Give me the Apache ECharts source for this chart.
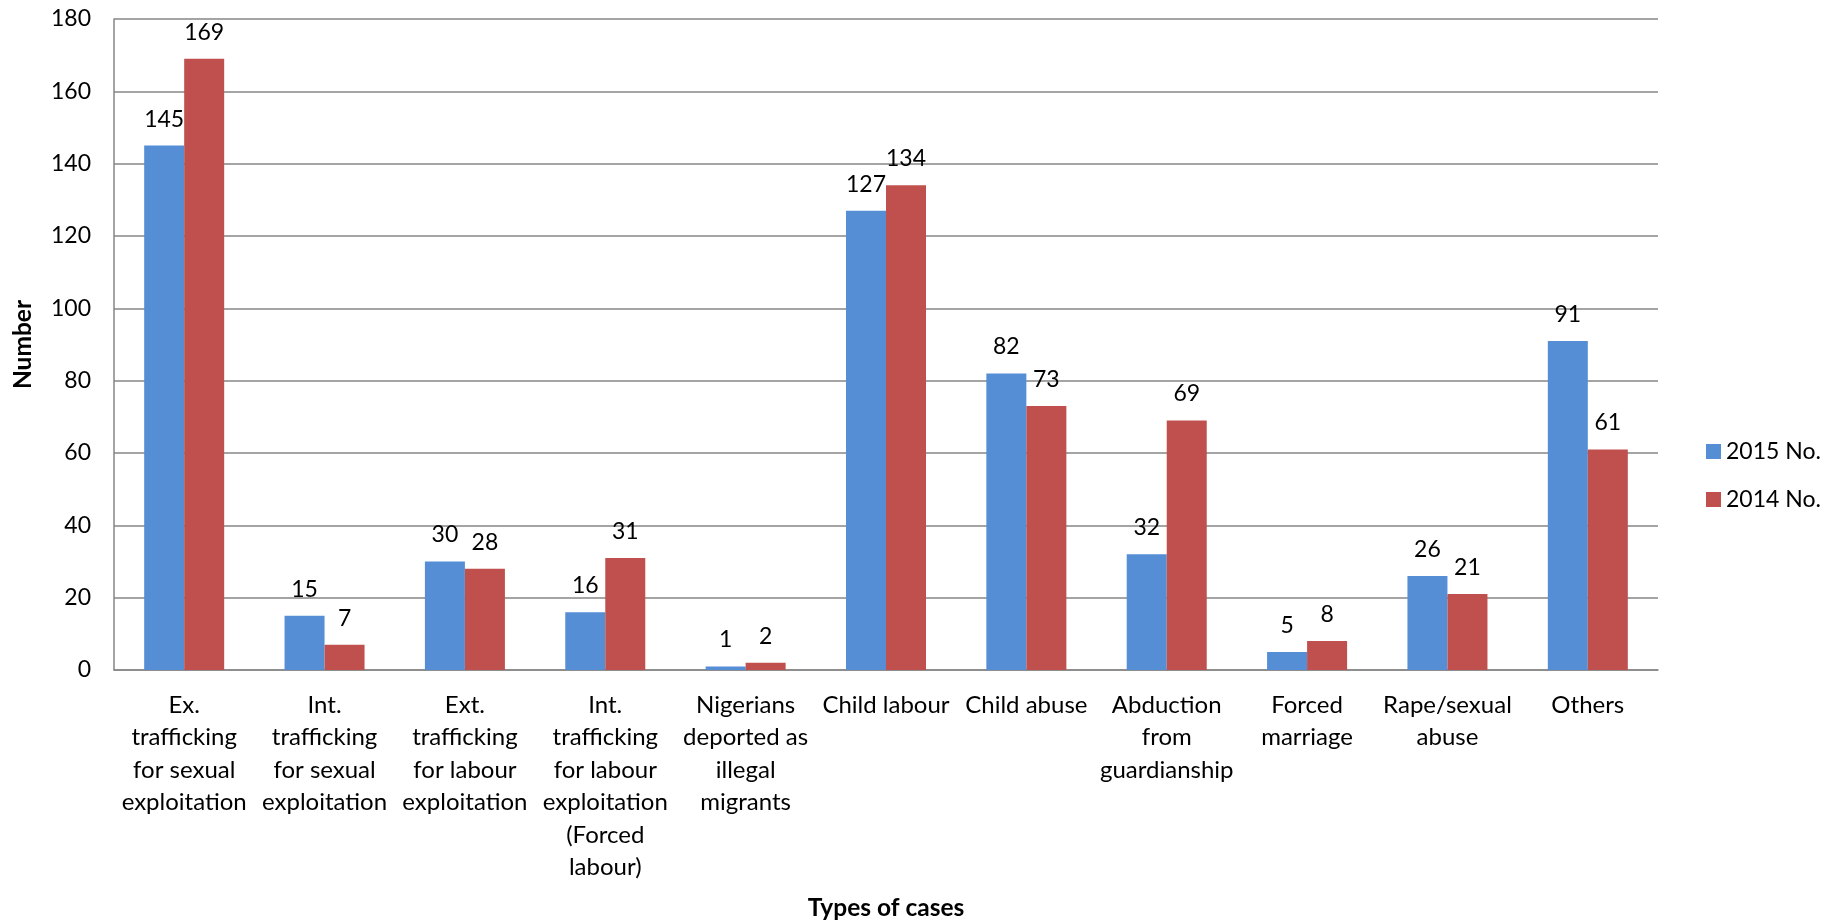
<!DOCTYPE html>
<html>
<head>
<meta charset="utf-8">
<script src="https://cdn.jsdelivr.net/npm/echarts@6/dist/echarts.min.js"></script>
<style>html,body{margin:0;padding:0;background:#fff;}#c{width:1839px;height:923px;}</style>
</head>
<body>
<div id="c"></div>
<script>
var categories = [
  "Ex.\ntrafficking\nfor sexual\nexploitation",
  "Int.\ntrafficking\nfor sexual\nexploitation",
  "Ext.\ntrafficking\nfor labour\nexploitation",
  "Int.\ntrafficking\nfor labour\nexploitation\n(Forced\nlabour)",
  "Nigerians\ndeported as\nillegal\nmigrants",
  "Child labour",
  "Child abuse",
  "Abduction\nfrom\nguardianship",
  "Forced\nmarriage",
  "Rape/sexual\nabuse",
  "Others"
];
var values2015 = [145, 15, 30, 16, 1, 127, 82, 32, 5, 26, 91];
var values2014 = [169, 7, 28, 31, 2, 134, 73, 69, 8, 21, 61];
var seriesNames = ["2015 No.", "2014 No."];

var FONT = "Lato";
var chart = echarts.init(document.getElementById('c'));
var labelStyle = {show: true, position: 'top', distance: 15, color: '#000', fontSize: 23, fontFamily: FONT};
chart.setOption({
  animation: false,
  textStyle: {fontFamily: FONT, color: '#000'},
  grid: {left: 114, top: 19, right: 181, bottom: 253, containLabel: false, outerBoundsMode: 'none'},
  legend: {
    orient: 'vertical', left: 1701, top: 435, itemWidth: 15, itemHeight: 15, itemGap: 25,
    icon: 'rect',
    textStyle: {fontSize: 23, color: '#000', fontFamily: FONT},
    data: seriesNames
  },
  xAxis: {
    type: 'category', data: categories,
    name: 'Types of cases', nameLocation: 'middle', nameGap: 226,
    nameTextStyle: {fontSize: 24.5, fontWeight: 'bold', color: '#000', fontFamily: FONT},
    axisLine: {lineStyle: {color: '#868686', width: 1.5}},
    axisTick: {show: false},
    axisLabel: {interval: 0, color: '#000', fontSize: 24, lineHeight: 32.5, margin: 19, fontFamily: FONT}
  },
  yAxis: {
    type: 'value', min: 0, max: 180, interval: 20,
    name: 'Number', nameLocation: 'middle', nameGap: 78, nameRotate: 90,
    nameTextStyle: {fontSize: 24.5, fontWeight: 'bold', color: '#000', fontFamily: FONT},
    axisLine: {show: true, lineStyle: {color: '#868686', width: 1.5}},
    axisTick: {show: false},
    axisLabel: {color: '#000', fontSize: 23, margin: 23, fontFamily: FONT},
    splitLine: {lineStyle: {color: '#868686', width: 1.5}}
  },
  series: [
    {name: seriesNames[0], type: 'bar', data: values2015, barGap: '0%', barCategoryGap: '43%',
     itemStyle: {color: '#558ED5'}, label: labelStyle},
    {name: seriesNames[1], type: 'bar', data: values2014, barGap: '0%', barCategoryGap: '43%',
     itemStyle: {color: '#C0504D'}, label: labelStyle}
  ]
});
</script>
</body>
</html>
